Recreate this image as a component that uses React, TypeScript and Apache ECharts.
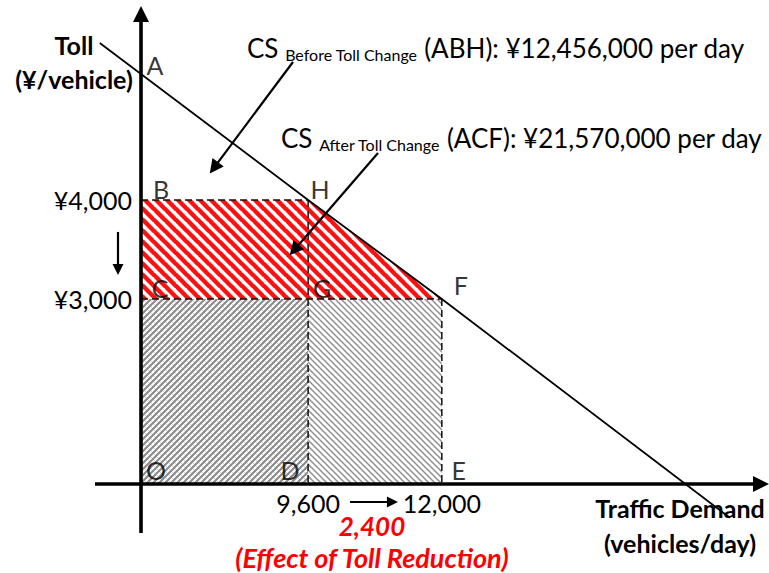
import React, { useEffect, useRef } from "react";
import * as echarts from "echarts";

// ---- Data (vehicles/day, ¥/vehicle) ----
const qBefore = 9600;
const qAfter = 12000;
const tollBefore = 4000;
const tollAfter = 3000;
const xTickValues = [9600, 12000];
const yTickValues = [3000, 4000];

// Demand line
const demandQ = [5860, 9600, 12000, 17170];
const demandToll = [5585, 4000, 3000, 790];

// Schematic diagram: axes are broken at the origin
const originQ = 6600;
const originToll = 1130;
const xMin = 4069;
const xMax = 17873;
const yMin = 232;
const yMax = 6020;

// Axis extents (arrow heads)
const xAxisFromQ = 5774;
const xAxisToQ = 17729;
const yAxisFromToll = 637;
const yAxisToToll = 5878;

// Labelled points
const pointNames = ["A", "B", "H", "C", "G", "F", "O", "D", "E"];
const pointQ = [originQ, originQ, qBefore, originQ, qBefore, qAfter, originQ, qBefore, qAfter];
const pointToll = [5270, tollBefore, tollBefore, tollAfter, tollAfter, tollAfter, originToll, originToll, originToll];

// Annotation arrows [fromQ, fromToll, toQ, toToll]
const pointerArrows = [
  [9328, 5394, 7909, 4325],
  [10854, 4475, 9350, 3494],
];
const smallArrows = [
  [6187, 3677, 6187, 3298],
  [10352, 950, 11114, 950],
];

// ---- Styles ----
const FONT = "Lato";
const labelOffsets: Record<string, [number, number]> = {
  A: [14, -9],
  B: [20, -11],
  H: [12, -11],
  C: [19, -11],
  G: [14, -11],
  F: [19, -14],
  O: [15, -14],
  D: [-18, -14],
  E: [17, -14],
};

function hatch(size: number, lines: { color: string; width: number; dir: string }[]) {
  const c = document.createElement("canvas");
  c.width = size;
  c.height = size;
  const ctx = c.getContext("2d")!;
  ctx.fillStyle = "#ffffff";
  ctx.fillRect(0, 0, size, size);
  for (const l of lines) {
    ctx.strokeStyle = l.color;
    ctx.lineWidth = l.width;
    ctx.beginPath();
    for (let k = -1; k <= 1; k++) {
      if (l.dir === "\\") {
        ctx.moveTo(-1, -1 + k * size);
        ctx.lineTo(size + 1, size + 1 + k * size);
      } else {
        ctx.moveTo(-1, size + 1 + k * size);
        ctx.lineTo(size + 1, -1 + k * size);
      }
    }
    ctx.stroke();
  }
  return { image: c, repeat: "repeat", imageWidth: size, imageHeight: size };
}

function polygonSeries(qs: number[], ts: number[], fill: any) {
  return {
    type: "custom",
    silent: true,
    clip: false,
    z: 1,
    data: [[qs[0], ts[0]]],
    renderItem: (_p: any, api: any) => ({
      type: "polygon",
      shape: { points: qs.map((q, i) => api.coord([q, ts[i]])) },
      style: { fill, stroke: "none" },
    }),
  };
}

function csText(sub: string, rest: string) {
  return {
    text: `{m|CS }{s|${sub}}{m| ${rest}}`,
    align: "left",
    verticalAlign: "middle",
    fill: "#000",
    rich: {
      m: { fontSize: 26, fontFamily: FONT, lineHeight: 28, fill: "#000" },
      s: { fontSize: 16, fontFamily: FONT, verticalAlign: "bottom", fill: "#000" },
    },
  };
}

function buildOption() {
  const redFill = hatch(11, [{ color: "#ff1010", width: 4.4, dir: "\\" }]);
  const grayLeftFill = hatch(6, [
    { color: "#d2d2d2", width: 1, dir: "\\" },
    { color: "#8a8a8a", width: 2, dir: "/" },
  ]);
  const grayRightFill = hatch(6, [{ color: "#8f8f8f", width: 1.5, dir: "\\" }]);

  const dashedSegments = [
    [[originQ, tollBefore], [qBefore, tollBefore]],
    [[originQ, tollAfter], [qAfter, tollAfter]],
    [[qBefore, tollBefore], [qBefore, originToll]],
    [[qAfter, tollAfter], [qAfter, originToll]],
  ];

  const arrowLine = (a: number[]) => [{ coord: [a[0], a[1]] }, { coord: [a[2], a[3]] }];

  return {
    animation: false,
    backgroundColor: "#ffffff",
    textStyle: { fontFamily: FONT },
    grid: { left: 0, right: 0, top: 0, bottom: 0, outerBoundsMode: "none" },
    xAxis: {
      type: "value",
      min: xMin,
      max: xMax,
      position: "bottom",
      offset: -(573 - 484),
      axisLine: { show: false },
      axisTick: { show: false },
      splitLine: { show: false },
      axisLabel: {
        customValues: xTickValues,
        formatter: (v: number) => v.toLocaleString("en-US"),
        fontSize: 25,
        fontFamily: FONT,
        color: "#000",
        margin: 6,
      },
    },
    yAxis: {
      type: "value",
      min: yMin,
      max: yMax,
      position: "left",
      offset: -141,
      axisLine: { show: false },
      axisTick: { show: false },
      splitLine: { show: false },
      axisLabel: {
        customValues: yTickValues,
        formatter: (v: number) => "¥" + v.toLocaleString("en-US"),
        fontSize: 25,
        fontFamily: FONT,
        color: "#000",
        margin: 9,
      },
    },
    series: [
      polygonSeries(
        [originQ, qBefore, qBefore, originQ],
        [originToll, originToll, tollAfter, tollAfter],
        grayLeftFill
      ),
      polygonSeries(
        [qBefore, qAfter, qAfter, qBefore],
        [originToll, originToll, tollAfter, tollAfter],
        grayRightFill
      ),
      polygonSeries(
        [originQ, qBefore, qAfter, originQ],
        [tollBefore, tollBefore, tollAfter, tollAfter],
        redFill
      ),
      ...dashedSegments.map((seg) => ({
        type: "line",
        silent: true,
        z: 3,
        symbol: "none",
        data: seg,
        lineStyle: { color: "#111", width: 1.5, type: [7, 4] },
      })),
      {
        type: "line",
        silent: true,
        z: 4,
        symbol: "none",
        data: demandQ.map((q, i) => [q, demandToll[i]]),
        lineStyle: { color: "#000", width: 1.8 },
      },
      {
        type: "line",
        data: [],
        z: 5,
        markLine: {
          silent: true,
          symbol: ["none", "triangle"],
          symbolSize: 16,
          label: { show: false },
          lineStyle: { color: "#000", width: 3.6, type: "solid" },
          data: [
            arrowLine([xAxisFromQ, originToll, xAxisToQ, originToll]),
            arrowLine([originQ, yAxisFromToll, originQ, yAxisToToll]),
          ],
        },
      },
      {
        type: "line",
        data: [],
        z: 5,
        markLine: {
          silent: true,
          symbol: ["none", "triangle"],
          symbolSize: 14,
          label: { show: false },
          lineStyle: { color: "#000", width: 2.2, type: "solid" },
          data: pointerArrows.map(arrowLine),
        },
      },
      {
        type: "line",
        data: [],
        z: 5,
        markLine: {
          silent: true,
          symbol: ["none", "triangle"],
          symbolSize: 11,
          label: { show: false },
          lineStyle: { color: "#000", width: 2.2, type: "solid" },
          data: smallArrows.map(arrowLine),
        },
      },
      {
        type: "scatter",
        silent: true,
        z: 6,
        symbolSize: 0,
        data: pointNames.map((n, i) => ({
          name: n,
          value: [pointQ[i], pointToll[i]],
          label: { offset: labelOffsets[n] },
        })),
        label: {
          show: true,
          position: "inside",
          formatter: (p: any) => p.name,
          fontSize: 25,
          fontFamily: FONT,
          color: "#000",
          align: "center",
          verticalAlign: "middle",
        },
      },
    ],
    graphic: [
      {
        type: "text",
        x: 74,
        y: 62,
        silent: true,
        style: {
          text: "Toll\n(¥/vehicle)",
          font: `bold 25px ${FONT}`,
          fill: "#000",
          align: "center",
          verticalAlign: "middle",
          lineHeight: 34,
        },
      },
      {
        type: "text",
        x: 680,
        y: 525,
        silent: true,
        style: {
          text: "Traffic Demand\n(vehicles/day)",
          font: `bold 25px ${FONT}`,
          fill: "#000",
          align: "center",
          verticalAlign: "middle",
          lineHeight: 35,
        },
      },
      {
        type: "text",
        x: 372,
        y: 526,
        silent: true,
        style: {
          text: "2,400",
          font: `italic bold 26px ${FONT}`,
          fill: "#ff0000",
          align: "center",
          verticalAlign: "middle",
        },
      },
      {
        type: "text",
        x: 372,
        y: 557,
        silent: true,
        style: {
          text: "(Effect of Toll Reduction)",
          font: `italic bold 27px ${FONT}`,
          fill: "#ff0000",
          align: "center",
          verticalAlign: "middle",
        },
      },
      {
        type: "text",
        x: 247,
        y: 48,
        silent: true,
        style: csText("Before Toll Change", "(ABH): ¥12,456,000 per day"),
      },
      {
        type: "text",
        x: 281,
        y: 138,
        silent: true,
        style: csText("After Toll Change", "(ACF): ¥21,570,000 per day"),
      },
    ],
  };
}

export default function App() {
  const ref = useRef<HTMLDivElement>(null);
  useEffect(() => {
    document.body.style.margin = "0";
    const chart = echarts.init(ref.current!, null, { renderer: "svg", width: 769, height: 573 });
    chart.setOption(buildOption() as any);
    return () => chart.dispose();
  }, []);
  return (
    <div
      ref={ref}
      style={{ position: "fixed", left: 0, top: 0, width: 769, height: 573, background: "#fff" }}
    />
  );
}
